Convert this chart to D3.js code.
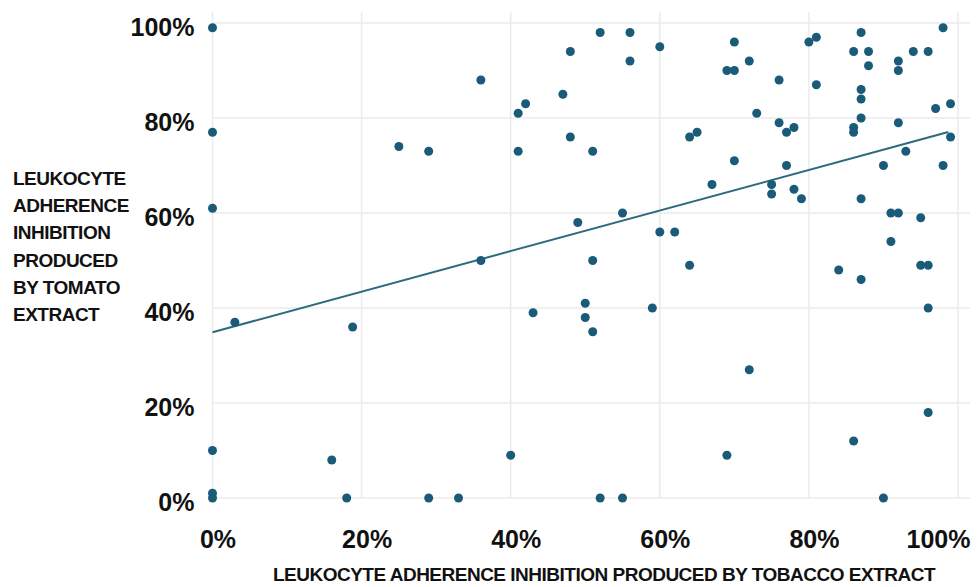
<!DOCTYPE html>
<html>
<head>
<meta charset="utf-8">
<script src="https://cdn.jsdelivr.net/npm/d3@7"></script>
<style>
    html, body { margin: 0; padding: 0; background: #fff; }
    #viewportContainer { width: 977px; height: 587px; }
    .tick text { font-family: "Liberation Sans", Arial, sans-serif; font-weight: bold; font-size: 25px; fill: #111; }
    .axis-label { font-family: "Liberation Sans", Arial, sans-serif; font-weight: bold; font-size: 19px; letter-spacing: -0.5px; fill: #111; }
</style>
</head>
<body>
<div id="viewportContainer"></div>
<script>
/* --- データ (% 値) --- */
const tobacco = [
    0, 0, 0, 0, 0, 0, 3, 16, 18, 18.8, 25, 29, 29, 33, 36, 36, 40, 41, 42, 41,
    43, 47, 48, 48, 49, 50, 50, 51, 51, 51, 52, 52, 55, 55, 56, 56, 59, 60, 60, 62,
    64, 64, 65, 67, 69, 69, 70, 70, 70, 72, 72, 73, 75, 75, 76, 76, 77, 77, 78, 78,
    79, 80, 81, 81, 84, 86, 86, 86, 86, 87, 87, 87, 87, 87, 87, 88, 88, 90, 90, 91,
    91, 92, 92, 92, 92, 93, 94, 95, 95, 96, 96, 96, 96, 97, 98, 98, 99, 99
];
const tomato = [
    99, 77, 61, 10, 1, 0, 37, 8, 0, 36, 74, 73, 0, 0, 88, 50, 9, 81, 83, 73,
    39, 85, 94, 76, 58, 41, 38, 73, 50, 35, 98, 0, 60, 0, 98, 92, 40, 95, 56, 56,
    49, 76, 77, 66, 90, 9, 96, 90, 71, 92, 27, 81, 66, 64, 88, 79, 77, 70, 78, 65,
    63, 96, 97, 87, 48, 94, 78, 77, 12, 98, 86, 84, 80, 63, 46, 94, 91, 70, 0, 60,
    54, 92, 90, 79, 60, 73, 94, 59, 49, 94, 49, 40, 18, 82, 99, 70, 83, 76
];

/* --- 回帰直線 (端点) --- */
const trendX = [0, 98.7];
const trendY = [34.9, 77.05];

/* --- 目盛り --- */
const xTicks = [0, 20, 40, 60, 80, 100];
const yTicks = [0, 20, 40, 60, 80, 100];

const yTitleLines = ["LEUKOCYTE", "ADHERENCE", "INHIBITION", "PRODUCED", "BY TOMATO", "EXTRACT"];
const xTitle = "LEUKOCYTE ADHERENCE INHIBITION PRODUCED BY TOBACCO EXTRACT";

/* --- ビューポート --- */
const viewport = {width: 977, height: 587};
const plot = {left: 212.5, right: 958, top: 23, bottom: 498, gridTop: 12, gridRight: 970};

const dotColor = "#1b5b7a";
const lineColor = "#2d6b7c";
const gridColor = "#ebebeb";

let svg = d3.select("#viewportContainer")
    .append("svg")
    .attr("width", viewport.width)
    .attr("height", viewport.height);

/*--- スケール ---*/
let xScale = d3.scaleLinear().domain([0, 100]).range([plot.left, plot.right]);
let yScale = d3.scaleLinear().domain([0, 100]).range([plot.bottom, plot.top]);

/*--- グリッド ---*/
let gridContainer = svg.append("g").attr("id", "gridContainer");

gridContainer.selectAll(".vgrid")
    .data(xTicks)
    .enter()
    .append("line")
    .attr("class", "vgrid")
    .attr("x1", d => xScale(d)).attr("x2", d => xScale(d))
    .attr("y1", plot.gridTop).attr("y2", plot.bottom)
    .attr("stroke", gridColor)
    .attr("stroke-width", 1.5);

gridContainer.selectAll(".hgrid")
    .data(yTicks)
    .enter()
    .append("line")
    .attr("class", "hgrid")
    .attr("x1", plot.left).attr("x2", plot.gridRight)
    .attr("y1", d => yScale(d)).attr("y2", d => yScale(d))
    .attr("stroke", gridColor)
    .attr("stroke-width", 1.5);

/*--- 軸 ---*/
let xAxis = d3.axisBottom(xScale).tickValues(xTicks).tickFormat(d => d + "%").tickSize(0).tickPadding(32);
let yAxis = d3.axisLeft(yScale).tickValues(yTicks).tickFormat(d => d + "%").tickSize(0).tickPadding(18);

let xAxisContainer = svg.append("g")
    .attr("class", "x axis")
    .attr("transform", "translate(0," + plot.bottom + ")")
    .call(xAxis);
xAxisContainer.select(".domain").remove();
xAxisContainer.selectAll(".tick text")
    .attr("dx", d => d === 100 ? 12 : 5)
    .attr("text-anchor", d => d === 100 ? "end" : "middle");

let yAxisContainer = svg.append("g")
    .attr("class", "y axis")
    .attr("transform", "translate(" + plot.left + ",0)")
    .call(yAxis);
yAxisContainer.select(".domain").remove();
yAxisContainer.selectAll(".tick text").attr("dy", "0.5em");

/*--- 軸ラベル ---*/
svg.append("text")
    .attr("class", "axis-label")
    .attr("text-anchor", "middle")
    .attr("x", 604)
    .attr("y", 581)
    .text(xTitle);

svg.append("g")
    .selectAll("text")
    .data(yTitleLines)
    .enter()
    .append("text")
    .attr("class", "axis-label")
    .attr("x", 13)
    .attr("y", (d, i) => 185 + i * 27.2)
    .text(d => d);

/*--- 回帰直線 ---*/
let trendData = trendX.map((x, i) => ({x: x, y: trendY[i]}));
svg.append("path")
    .datum(trendData)
    .attr("fill", "none")
    .attr("stroke", lineColor)
    .attr("stroke-width", 2)
    .attr("d", d3.line().x(d => xScale(d.x)).y(d => yScale(d.y)));

/*--- 散布図 ---*/
let points = tobacco.map((x, i) => ({x: x, y: tomato[i]}));
svg.append("g")
    .attr("id", "chartContainer")
    .selectAll(".dot")
    .data(points)
    .enter()
    .append("circle")
    .attr("class", "dot")
    .attr("cx", d => xScale(d.x))
    .attr("cy", d => yScale(d.y))
    .attr("r", 4.5)
    .style("fill", dotColor);
</script>
</body>
</html>
